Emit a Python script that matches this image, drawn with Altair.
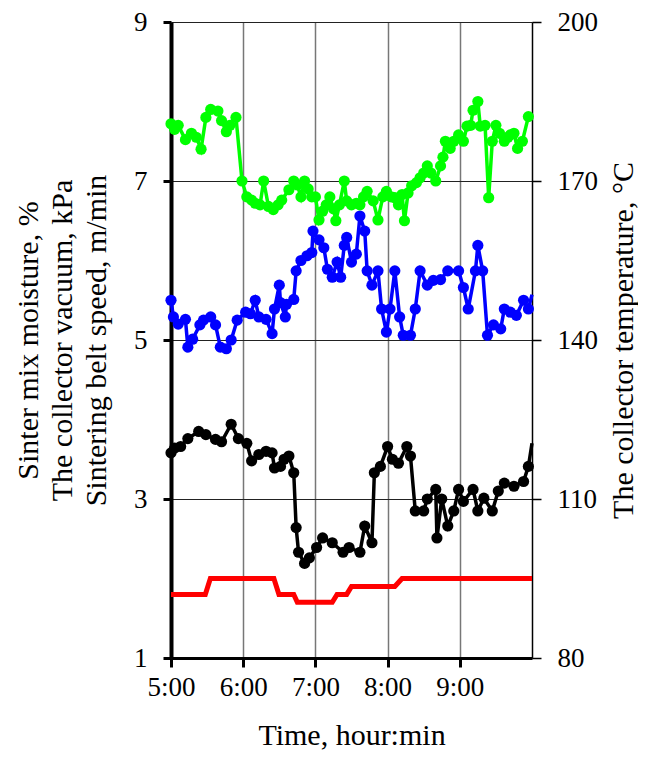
import altair as alt
import pandas as pd

# time in minutes after 5:00
green_t = [0,3,6,12,17,21,25,29,33,39,42,46,49,54,59,63,67,70,74,77,81,85,89,92,98,102,105,108,111,114,
           117,120,123,126,129,132,135,137,140,144,146,150,154,157,160,163,168,172,176,179,183,186,189,192,194,
           197,200,204,207,210,213,216,220,224,226,228,232,235,239,243,246,249,251,255,257,261,264,267,270,273,
           277,280,282,285,288,292,297]
green_v = [7.72,7.65,7.7,7.52,7.6,7.55,7.4,7.8,7.9,7.88,7.76,7.62,7.7,7.8,7.0,6.8,6.76,6.72,6.7,7.0,
           6.68,6.64,6.7,6.76,6.89,7.0,6.95,6.8,7.0,6.9,6.8,6.8,6.51,6.62,6.7,6.8,6.65,6.5,6.7,7.0,
           6.75,6.7,6.72,6.7,6.8,6.87,6.75,6.51,6.8,6.87,6.8,6.79,6.7,6.83,6.5,6.85,6.94,6.98,7.04,7.1,
           7.19,7.1,7.0,7.19,7.3,7.5,7.41,7.5,7.58,7.5,7.69,7.7,7.89,8.0,7.69,7.7,6.79,7.5,7.7,7.6,
           7.5,7.55,7.58,7.6,7.41,7.5,7.81]

blue_t = [0,2,6,12,14,18,24,27,33,37,41,46,50,55,62,66,70,73,79,84,86,90,91,95,96,102,104,108,113,117,
          118,123,127,130,134,138,141,144,146,150,154,157,161,163,167,172,175,179,182,186,190,193,199,203,207,
          213,218,224,230,239,243,247,253,255,259,263,268,274,277,282,287,293,297,300]
blue_v = [5.5,5.29,5.2,5.26,4.91,5.01,5.19,5.25,5.29,5.19,4.91,4.89,5.0,5.25,5.35,5.33,5.5,5.29,5.26,5.08,
          5.39,5.69,5.47,5.29,5.45,5.51,5.87,6.0,6.06,6.1,6.37,6.26,6.16,5.89,5.79,5.98,5.79,6.19,6.29,5.98,
          6.08,6.56,6.37,5.87,5.69,5.87,5.39,5.1,5.39,5.87,5.29,5.06,5.06,5.39,5.87,5.69,5.75,5.76,5.87,5.87,
          5.66,5.39,5.87,6.19,5.87,5.06,5.19,5.14,5.39,5.35,5.31,5.5,5.39,5.57]

black_t = [0,3,8,14,23,29,37,42,50,56,63,67,73,79,84,86,91,94,98,102,104,106,111,115,121,126,134,143,148,157,
           161,167,169,174,180,184,189,196,199,203,210,213,220,221,225,230,235,239,243,251,255,260,267,272,277,
           285,293,297,300]
black_v = [3.58,3.64,3.66,3.76,3.85,3.81,3.75,3.72,3.94,3.76,3.7,3.48,3.56,3.6,3.58,3.39,3.41,3.5,3.54,3.33,
           2.64,2.33,2.19,2.26,2.39,2.51,2.45,2.33,2.39,2.33,2.66,2.45,3.33,3.41,3.66,3.5,3.45,3.66,3.54,2.85,
           2.85,3.0,3.12,2.51,3.0,2.66,2.85,3.12,2.97,3.12,2.85,3.01,2.85,3.1,3.2,3.16,3.22,3.41,3.7]

red_t = [0,28.5,32.7,85.5,89.7,102,105,134,138,146,150,186,192,300]
red_v = [1.8,1.8,2.0,2.0,1.8,1.8,1.7,1.7,1.8,1.8,1.9,1.9,2.0,2.0]

left_ticks = [1,3,5,7,9]
right_ticks = [80,110,140,170,200]
hour_ticks = [300,360,420,480,540]

FONT = "Liberation Serif"
TFS = 30
H = 636

def frame(t, v):
    return pd.DataFrame({"t": [300 + x for x in t], "v": v})

xenc = alt.X("t:Q", scale=alt.Scale(domain=[300, 600], nice=False, zero=False),
             axis=alt.Axis(values=hour_ticks,
                           labelExpr="floor(datum.value/60) + ':00'",
                           labelFlush=False, labelOverlap=False,
                           title="Time, hour:min", titleFont=FONT, titleFontSize=TFS,
                           titleFontWeight="normal", titleColor="black",
                           titleX=180.5, titleY=86, titleBaseline="alphabetic", titleAlign="center",
                           labelFont=FONT, labelFontSize=27, labelColor="black", labelPadding=7,
                           grid=True, gridColor="#777777", gridWidth=1.5,
                           domainColor="black", domainWidth=3,
                           tickColor="black", tickWidth=3, tickSize=9))

yenc = alt.Y("v:Q", scale=alt.Scale(domain=[1, 9], nice=False, zero=False),
             axis=alt.Axis(values=left_ticks,
                           title=["Sinter mix moisture, %", "The collector vacuum, kPa",
                                  "Sintering belt speed, m/min"],
                           titleFont=FONT, titleFontSize=TFS, titleFontWeight="normal",
                           titleColor="black", titleLineHeight=34, titleAngle=270,
                           titleX=-143, titleY=H / 2, titleAlign="center", titleBaseline="middle",
                           labelFont=FONT, labelFontSize=27, labelColor="black", labelPadding=16,
                           grid=True, gridColor="#222222", gridWidth=1,
                           domainColor="black", domainWidth=4,
                           tickColor="black", tickWidth=3, tickSize=8))

def series(t, v, color, width, points=True, last_marker=True):
    df = frame(t, v)
    line = alt.Chart(df).mark_line(color=color, strokeWidth=width).encode(x=xenc, y=yenc)
    if not points:
        return line
    pdf = df if last_marker else df[df["t"] < 600]
    pts = alt.Chart(pdf).mark_circle(color=color, size=125, opacity=1).encode(x=xenc, y=yenc)
    return line + pts

red = series(red_t, red_v, "#ff0000", 5, points=False)
black = series(black_t, black_v, "#000000", 3.5, last_marker=False)
blue = series(blue_t, blue_v, "#0000ff", 3.5, last_marker=False)
green = series(green_t, green_v, "#00ff00", 3.5)

left = alt.layer(red, black, blue, green)

right = alt.Chart(pd.DataFrame({"temp": right_ticks})).mark_point(opacity=0).encode(
    x=alt.value(0),
    y=alt.Y("temp:Q", scale=alt.Scale(domain=[80, 200], nice=False, zero=False),
            axis=alt.Axis(orient="right", values=right_ticks,
                          title="The collector temperature, °C",
                          titleFont=FONT, titleFontSize=TFS, titleFontWeight="normal",
                          titleColor="black", titleAngle=270,
                          titleX=91, titleY=H / 2, titleAlign="center", titleBaseline="middle",
                          labelFont=FONT, labelFontSize=27, labelColor="black", labelPadding=16,
                          grid=False, domainColor="black", domainWidth=1.5,
                          tickColor="black", tickWidth=1.5, tickSize=9))
)

chart = alt.layer(left, right).resolve_scale(y="independent").properties(
    width=361, height=H,
    autosize=alt.AutoSizeParams(type="none"),
    padding={"left": 163, "top": 14, "right": 106, "bottom": 93},
).configure_view(strokeWidth=0).configure(background="white")

chart.save("out.html", embed_options={"renderer": "svg", "actions": False})
